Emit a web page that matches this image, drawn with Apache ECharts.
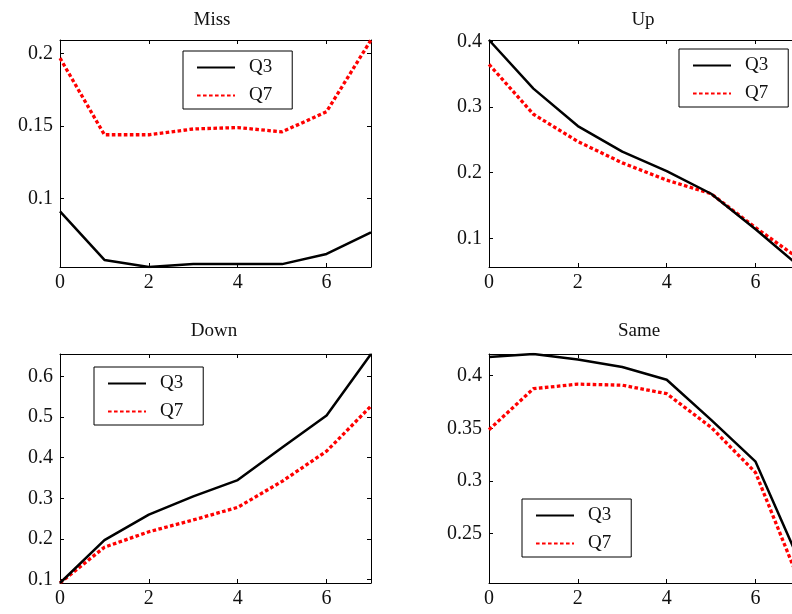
<!DOCTYPE html>
<html><head><meta charset="utf-8">
<script src="https://cdn.jsdelivr.net/npm/echarts@6/dist/echarts.min.js"></script>
<style>html,body{margin:0;padding:0;background:#fff}#c{width:792px;height:614px}</style>
</head><body><div id="c"></div>
<script>
// ---- data ----
const xs = [0, 1, 2, 3, 4, 5, 6, 7];
const titles = ['Miss', 'Up', 'Down', 'Same'];
const seriesNames = ['Q3', 'Q7'];
const missQ3 = [0.091, 0.0575, 0.0526, 0.0546, 0.0546, 0.0546, 0.0616, 0.0766];
const missQ7 = [0.197, 0.144, 0.144, 0.148, 0.149, 0.146, 0.160, 0.2095];
const upQ3 = [0.402, 0.328, 0.271, 0.232, 0.2025, 0.168, 0.114, 0.0565];
const upQ7 = [0.365, 0.289, 0.2475, 0.215, 0.1887, 0.168, 0.1164, 0.068];
const downQ3 = [0.092, 0.1975, 0.26, 0.305, 0.345, 0.425, 0.504, 0.655];
const downQ7 = [0.092, 0.18, 0.218, 0.247, 0.278, 0.342, 0.416, 0.527];
const sameQ3 = [0.4177, 0.4206, 0.4153, 0.4083, 0.3962, 0.358, 0.3184, 0.2227];
const sameQ7 = [0.3487, 0.3877, 0.392, 0.391, 0.3829, 0.351, 0.308, 0.2032];
const xTickStep = 2;
const yTickSteps = [0.05, 0.1, 0.1, 0.05];

const panels = [[missQ3, missQ7], [upQ3, upQ7], [downQ3, downQ7], [sameQ3, sameQ7]];

// ---- layout / style ----
const FONT = "'Liberation Serif','Times New Roman',serif";
const grids = [
  {left: 60, top: 40, width: 311, height: 227},
  {left: 489, top: 40, width: 311, height: 227},
  {left: 60, top: 354, width: 311, height: 229},
  {left: 489, top: 354, width: 311, height: 229}
];
const legendPos = [[183, 51], [679, 49], [94, 367], [522, 499]];
const titlePos = [[212, 11], [643, 11], [214, 322], [639, 322]];
const lineStyles = [
  {color: '#000000', width: 2.5, type: 'solid'},
  {color: '#ff0000', width: 3.3, type: [3.6, 2.4], cap: 'butt'}
];

function stepFormatter(step) {
  return function (v) {
    const k = Math.round(v / step);
    if (Math.abs(v - k * step) > step * 1e-4) return '';
    return String(parseFloat((k * step).toFixed(4)));
  };
}

const xAxis = [], yAxis = [], series = [], legend = [], title = [];
panels.forEach((p, g) => {
  const all = p[0].concat(p[1]);
  const ymin = Math.min.apply(null, all), ymax = Math.max.apply(null, all);
  const common = {
    axisLine: {show: true, onZero: false, lineStyle: {color: '#000', width: 1}},
    axisTick: {show: true, inside: true, length: 4, lineStyle: {color: '#000', width: 1}},
    splitLine: {show: false}
  };
  xAxis.push(Object.assign({}, common, {
    type: 'value', gridIndex: g, position: 'bottom', min: 0, max: 7, interval: xTickStep,
    axisLabel: {show: true, margin: 6, color: '#111', fontFamily: FONT, fontSize: 20,
      formatter: stepFormatter(xTickStep)}
  }));
  xAxis.push(Object.assign({}, common, {
    type: 'value', gridIndex: g, position: 'top', min: 0, max: 7, interval: xTickStep,
    axisLabel: {show: false}
  }));
  yAxis.push(Object.assign({}, common, {
    type: 'value', gridIndex: g, position: 'left', min: ymin, max: ymax,
    minInterval: yTickSteps[g], maxInterval: yTickSteps[g],
    axisLabel: {show: true, margin: 7, color: '#111', fontFamily: FONT, fontSize: 20,
      formatter: stepFormatter(yTickSteps[g])}
  }));
  yAxis.push(Object.assign({}, common, {
    type: 'value', gridIndex: g, position: 'right', min: ymin, max: ymax,
    minInterval: yTickSteps[g], maxInterval: yTickSteps[g],
    axisLabel: {show: false}
  }));
  p.forEach((arr, s) => {
    series.push({
      type: 'line', name: seriesNames[s], xAxisIndex: 2 * g, yAxisIndex: 2 * g,
      data: xs.map((x, i) => [x, arr[i]]),
      symbol: 'none', showSymbol: false, animation: false,
      itemStyle: {color: lineStyles[s].color},
      lineStyle: lineStyles[s], z: s === 0 ? 3 : 2
    });
  });
  legend.push({
    data: seriesNames, orient: 'vertical', left: legendPos[g][0], top: legendPos[g][1],
    backgroundColor: '#fff', borderColor: '#000', borderWidth: 1,
    padding: [7, 20, 4, 13], itemWidth: 38, itemHeight: 16, itemGap: 9,
    selectedMode: false,
    itemStyle: {opacity: 0},
    textStyle: {fontFamily: FONT, fontSize: 19, color: '#111', padding: [0, 0, 0, 9]}
  });
  title.push({
    text: titles[g], left: titlePos[g][0], top: titlePos[g][1], textAlign: 'center', padding: 0,
    textStyle: {fontFamily: FONT, fontSize: 19, fontWeight: 'normal', color: '#111'}
  });
});

const chart = echarts.init(document.getElementById('c'), null, {renderer: 'canvas'});
chart.setOption({
  backgroundColor: '#fff',
  animation: false,
  grid: grids.map(g => Object.assign({containLabel: false, outerBoundsMode: 'none'}, g)),
  title: title, legend: legend, xAxis: xAxis, yAxis: yAxis, series: series
});
</script>
</body></html>
